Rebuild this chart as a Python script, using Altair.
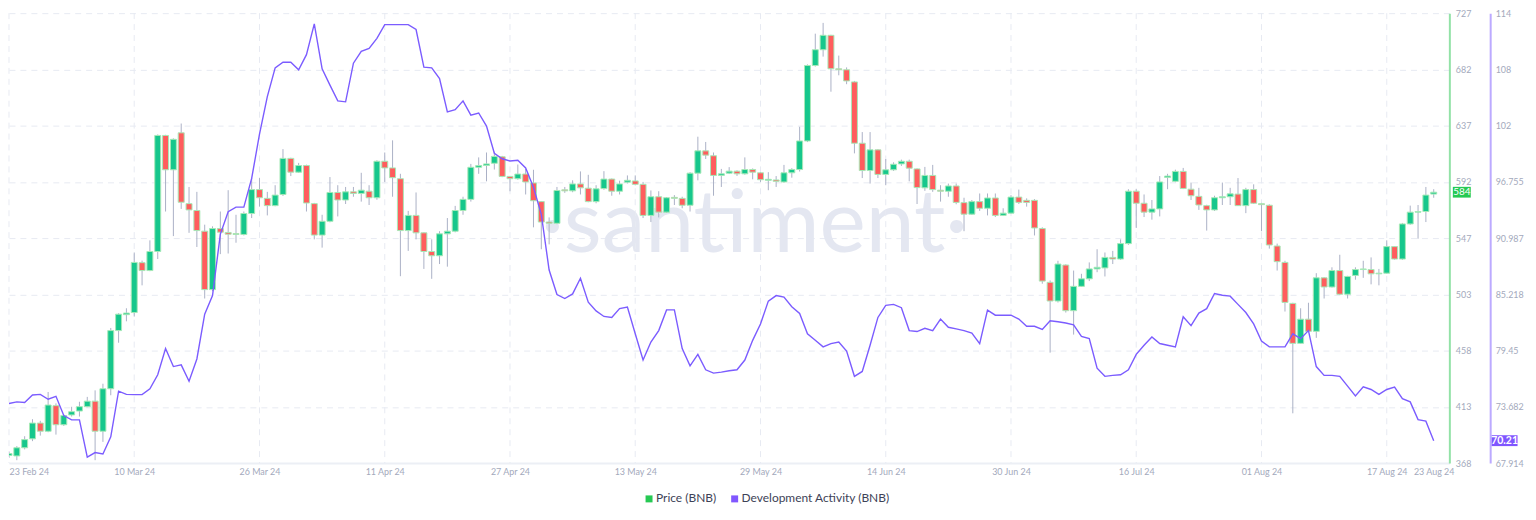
import altair as alt
import pandas as pd

# ---------------- data (daily candles, 23 Feb 2024 .. 23 Aug 2024) ----------------
dates = pd.date_range("2024-02-23", periods=183, freq="D").strftime("%Y-%m-%d").tolist()

price_open = [
    374.0,
    373.6, 380.1, 387.2, 399.8, 393.3, 413.7, 398.5, 406.3, 409.4, 412.9,
    417.3, 393.3, 427.2, 473.6, 486.3, 488.0, 527.8, 521.5, 536.7, 629.3,
    601.9, 631.4, 574.9, 569.4, 552.9, 506.3, 555.0, 551.9, 551.0, 550.3,
    567.0, 586.1, 579.1, 573.3, 582.2, 611.0, 600.0, 605.3, 574.9, 549.8,
    560.8, 583.8, 577.8, 584.3, 583.0, 584.8, 579.6, 608.7, 603.4, 594.8,
    553.4, 565.5, 551.6, 536.7, 533.3, 550.8, 552.9, 569.4, 578.3, 603.9,
    605.3, 607.1, 612.3, 596.6, 594.8, 598.5, 591.4, 576.5, 560.2, 559.2,
    585.9, 585.1, 590.6, 587.2, 576.5, 586.9, 594.5, 584.8, 592.0, 593.0,
    590.3, 565.5, 580.4, 568.1, 579.9, 579.1, 573.6, 599.2, 617.0, 613.1,
    597.4, 599.2, 600.8, 598.7, 602.1, 599.5, 593.5, 593.8, 592.2, 599.5,
    602.1, 624.9, 685.1, 697.7, 709.2, 682.5, 681.7, 672.0, 623.1, 601.3,
    617.8, 598.2, 601.9, 606.6, 608.7, 602.6, 587.5, 597.4, 585.6, 584.8,
    589.0, 575.7, 566.5, 576.5, 571.2, 579.4, 565.5, 567.3, 580.1, 577.5,
    577.5, 555.0, 512.1, 497.2, 525.9, 489.5, 508.9, 514.9, 522.8, 523.6,
    532.0, 530.7, 543.0, 584.8, 575.2, 568.1, 570.7, 595.8, 592.7, 600.6,
    586.4, 580.7, 573.3, 569.9, 579.6, 580.4, 582.5, 573.3, 586.1, 574.9,
    573.6, 541.1, 528.0, 495.3, 463.4, 482.7, 473.0, 515.7, 508.4, 521.5,
    502.6, 517.6, 522.3, 522.3, 518.9, 519.4, 540.6, 530.7, 558.7, 568.1,
    568.6, 582.5,
]
price_close = [
    375.5,
    380.1, 386.6, 399.8, 393.3, 414.2, 398.5, 405.8, 408.9, 412.9, 417.3,
    393.3, 427.2, 473.6, 486.7, 487.6, 528.0, 521.5, 536.7, 629.3, 601.9,
    626.2, 576.0, 569.9, 553.4, 506.3, 555.0, 552.1, 550.5, 550.3, 567.0,
    586.1, 579.6, 573.3, 581.7, 611.0, 600.0, 605.3, 575.4, 549.8, 560.8,
    583.8, 577.8, 584.3, 583.0, 585.6, 579.6, 608.7, 603.4, 595.6, 553.4,
    565.5, 551.6, 536.7, 533.3, 550.8, 552.9, 569.4, 578.3, 603.9, 605.3,
    606.6, 612.6, 596.6, 594.8, 598.5, 592.2, 577.2, 560.2, 559.2, 585.4,
    585.1, 590.6, 587.5, 576.5, 586.7, 594.5, 584.8, 590.6, 593.5, 590.3,
    565.5, 580.4, 568.1, 579.6, 579.1, 573.6, 599.2, 617.0, 613.6, 597.4,
    598.7, 600.8, 598.7, 602.1, 600.0, 594.0, 594.3, 592.7, 599.5, 602.1,
    624.9, 685.1, 697.7, 709.2, 682.5, 681.7, 672.8, 623.1, 601.3, 617.8,
    598.2, 601.9, 606.3, 608.7, 603.2, 587.7, 597.4, 586.1, 584.8, 589.0,
    575.9, 566.5, 576.5, 571.2, 579.4, 565.5, 567.3, 580.1, 575.9, 575.9,
    555.5, 513.1, 497.2, 526.7, 489.5, 508.9, 514.9, 522.8, 524.1, 532.0,
    530.7, 543.0, 584.8, 575.2, 568.1, 570.7, 592.2, 596.9, 600.6, 587.0,
    581.2, 573.8, 569.9, 579.6, 580.4, 582.7, 573.3, 586.1, 575.2, 574.1,
    541.9, 528.6, 496.1, 463.4, 482.7, 473.0, 515.7, 508.4, 521.5, 502.6,
    516.8, 522.3, 522.8, 518.9, 519.4, 540.6, 530.7, 558.7, 568.1, 568.6,
    581.7, 584.0,
]
price_high = [
    377.0,
    381.4, 389.3, 402.9, 401.6, 424.6, 415.5, 406.5, 412.8, 416.8, 420.7,
    425.9, 431.2, 475.7, 487.5, 491.4, 535.9, 529.4, 545.6, 630.1, 629.8,
    627.0, 638.8, 588.2, 584.3, 558.1, 556.8, 568.6, 585.6, 566.0, 568.6,
    595.3, 595.3, 584.3, 589.6, 618.4, 611.5, 607.4, 606.0, 575.5, 566.0,
    596.1, 589.6, 588.2, 588.2, 599.5, 589.6, 609.5, 615.7, 625.4, 598.7,
    569.1, 583.8, 552.0, 546.4, 552.9, 563.4, 573.1, 580.4, 606.6, 611.8,
    615.7, 616.3, 613.0, 597.0, 606.1, 602.6, 601.9, 577.0, 563.9, 588.2,
    588.2, 593.5, 600.6, 597.9, 589.6, 600.8, 595.0, 593.2, 597.4, 597.4,
    592.2, 585.4, 584.8, 580.2, 581.7, 580.4, 600.0, 628.3, 624.1, 615.7,
    602.6, 604.0, 601.5, 611.8, 603.0, 600.0, 600.0, 596.9, 605.8, 603.2,
    636.2, 686.0, 710.5, 719.1, 709.6, 693.0, 683.6, 672.8, 632.0, 632.0,
    618.3, 610.5, 607.9, 610.0, 610.0, 603.0, 604.2, 605.8, 589.6, 590.9,
    590.9, 579.6, 577.8, 583.0, 583.0, 583.0, 571.2, 581.7, 586.1, 579.1,
    578.5, 556.0, 513.6, 529.3, 526.5, 521.5, 518.9, 528.0, 538.5, 535.9,
    537.2, 546.4, 586.4, 586.4, 582.2, 577.8, 596.9, 598.7, 602.0, 603.4,
    591.7, 587.5, 574.0, 581.2, 591.7, 587.5, 595.3, 587.5, 590.3, 575.5,
    574.3, 543.0, 529.3, 495.8, 491.4, 495.8, 519.4, 516.2, 524.1, 534.1,
    517.3, 524.1, 529.3, 532.0, 522.8, 545.6, 541.0, 559.5, 573.3, 573.8,
    588.2, 586.4,
]
price_low = [
    372.0,
    370.2, 378.8, 385.4, 389.8, 392.5, 390.6, 397.5, 405.0, 405.0, 412.5,
    370.2, 384.8, 422.0, 463.9, 481.0, 484.8, 509.7, 521.0, 530.7, 568.6,
    549.0, 570.7, 551.6, 540.3, 499.2, 505.0, 534.6, 535.1, 543.7, 549.5,
    563.4, 572.5, 565.5, 572.8, 581.0, 596.9, 599.5, 568.6, 546.4, 539.8,
    560.0, 564.7, 574.6, 580.4, 576.5, 573.8, 578.0, 592.2, 580.4, 517.0,
    537.2, 546.4, 522.8, 514.9, 526.7, 524.6, 552.0, 566.0, 576.5, 598.7,
    592.7, 602.1, 596.0, 584.8, 594.0, 582.2, 556.0, 538.5, 542.4, 558.5,
    583.5, 584.0, 582.2, 576.0, 575.2, 586.0, 581.2, 582.2, 591.0, 589.5,
    563.4, 560.2, 563.9, 567.5, 573.8, 571.2, 568.6, 593.5, 610.5, 581.2,
    588.2, 598.5, 597.0, 598.0, 594.3, 592.2, 585.6, 588.2, 591.5, 595.6,
    600.5, 624.0, 684.3, 692.2, 664.2, 677.3, 670.2, 615.0, 595.3, 590.9,
    595.3, 589.6, 601.0, 605.0, 592.7, 574.6, 585.1, 584.3, 576.5, 580.4,
    574.4, 552.9, 566.0, 569.1, 565.5, 564.2, 565.0, 567.0, 574.6, 572.5,
    549.5, 511.0, 456.0, 496.0, 488.0, 470.4, 508.4, 513.1, 520.2, 516.8,
    526.7, 530.0, 542.0, 555.5, 564.2, 562.1, 564.7, 586.4, 592.0, 586.5,
    577.8, 569.9, 553.4, 569.0, 573.8, 573.8, 573.0, 567.3, 574.6, 552.9,
    539.0, 521.5, 488.8, 407.6, 463.0, 472.5, 467.8, 499.2, 507.9, 502.0,
    499.2, 514.2, 515.7, 510.5, 509.7, 519.0, 530.2, 530.0, 558.0, 546.9,
    560.2, 579.6,
]
dev_activity = [
    74.02,
    74.19, 74.12, 74.89, 74.96, 74.46, 74.76, 72.78, 72.34, 72.34, 68.52,
    68.99, 68.85, 70.60, 75.29, 74.96, 74.93, 74.93, 75.53, 76.97, 79.66,
    77.81, 77.98, 76.30, 78.59, 83.18, 85.10, 91.40, 93.69, 94.16, 94.16,
    97.11, 101.64, 105.50, 108.45, 109.02, 109.02, 108.25, 109.80, 112.95, 108.35,
    106.67, 105.06, 104.96, 108.92, 110.13, 110.43, 111.47, 112.88, 112.88, 112.88,
    112.88, 112.38, 108.52, 108.45, 107.35, 103.92, 104.16, 105.06, 103.59, 103.82,
    102.48, 99.69, 99.12, 98.89, 98.96, 98.18, 96.20, 93.42, 87.71, 85.20,
    84.79, 85.26, 86.87, 84.42, 83.52, 82.95, 82.85, 83.75, 83.92, 81.17,
    78.48, 80.33, 81.50, 83.62, 83.62, 79.66, 77.88, 79.06, 77.48, 77.14,
    77.24, 77.38, 77.48, 78.48, 80.50, 82.18, 84.52, 85.09, 84.93, 83.95,
    83.25, 81.17, 80.50, 79.83, 80.17, 80.33, 79.39, 76.81, 77.31, 80.00,
    82.85, 84.09, 84.19, 83.85, 81.50, 81.40, 81.74, 81.50, 82.68, 81.84,
    81.67, 81.50, 81.24, 80.17, 83.59, 83.08, 83.08, 83.08, 82.68, 81.94,
    81.94, 81.61, 82.51, 82.41, 82.28, 82.08, 80.90, 80.67, 77.64, 76.81,
    76.91, 76.97, 77.48, 79.06, 80.00, 80.84, 80.17, 80.00, 79.83, 82.92,
    82.01, 83.29, 83.75, 85.30, 85.13, 85.03, 84.19, 83.35, 82.18, 80.43,
    79.83, 79.83, 79.83, 81.17, 80.67, 81.50, 77.81, 76.91, 76.91, 76.81,
    75.80, 74.79, 75.73, 75.46, 74.96, 75.46, 75.70, 74.52, 74.19, 72.37,
    72.21, 70.21,
]

grid_dates = ["2024-02-23", "2024-03-10", "2024-03-26", "2024-04-11", "2024-04-27",
              "2024-05-13", "2024-05-29", "2024-06-14", "2024-06-30", "2024-07-16",
              "2024-08-01", "2024-08-17"]
tick_dates = grid_dates + ["2024-08-23"]
price_ticks = [367.9, 412.775, 457.65, 502.525, 547.4, 592.275, 637.15, 682.025, 726.9]
dev_ticks = [67.914, 73.682, 79.45, 85.218, 90.987, 96.755, 102.523, 108.29, 114.058]
series_names = ["Price (BNB)", "Development Activity (BNB)"]

n = len(dates)
assert all(len(a) == n for a in [price_open, price_close, price_high, price_low, dev_activity])

df = pd.DataFrame({"date": dates, "open": price_open, "high": price_high,
                   "low": price_low, "close": price_close, "dev": dev_activity})

# ---------------- styling ----------------
W, H = 1447, 452
FONT = "Lato"
LABEL_GREY = "#a3a9bc"
UP = "#16c78c"
DOWN = "#ff5d5d"
BORDER = "#a6e9b6"
WICK = "#aab0c6"
LINE = "#7b5cff"
PRICE_GREEN = "#26c953"
GRID = "#e7eaf2"


def ms(s):
    return int(pd.Timestamp(s, tz="UTC").value // 10**6)


x_scale = alt.Scale(type="utc", domain=[ms("2024-02-23"), ms("2024-08-25")], nice=False, padding=0)
x_axis = alt.Axis(
    values=[ms(d) for d in tick_dates],
    labelExpr="utcFormat(datum.value, '%d %b %y')",
    grid=False, ticks=False, domainColor="#eceff5", domainWidth=2,
    labelColor=LABEL_GREY, labelFont=FONT, labelFontSize=9, labelPadding=4,
    labelFlush=True, labelOverlap=False, title=None,
)
x_enc = alt.X("date:T", scale=x_scale, axis=x_axis)

price_scale = alt.Scale(domain=[367.9, 726.9], zero=False, nice=False)
price_axis = alt.Axis(
    orient="right", values=price_ticks, labelExpr="format(datum.value, '.0f')",
    grid=True, gridColor=GRID, gridDash=[6, 5], gridWidth=1,
    ticks=False, domainColor="#93e2a7", domainWidth=2,
    labelColor=LABEL_GREY, labelFont=FONT, labelFontSize=9, labelPadding=6, title=None,
)
dev_scale = alt.Scale(domain=[67.914, 114.058], zero=False, nice=False)
dev_axis = alt.Axis(
    orient="right", offset=41, values=dev_ticks,
    labelExpr="datum.value >= 100 ? format(floor(datum.value), 'd') : format(datum.value, '.5~r')",
    grid=False, ticks=False, domainColor="#bcaaff", domainWidth=2,
    labelColor=LABEL_GREY, labelFont=FONT, labelFontSize=9, labelPadding=5, title=None,
)

one = alt.Data(values=[{}])

watermark = alt.Chart(one).mark_text(
    text="·santiment·", font=FONT, fontSize=88, fontWeight="normal",
    color="#e4e7f1", align="center", baseline="alphabetic",
).encode(x=alt.value(749), y=alt.value(240))

vgrid = alt.Chart(pd.DataFrame({"date": grid_dates})).mark_rule(
    color=GRID, strokeDash=[6, 5], strokeWidth=1
).encode(x=x_enc)

base = alt.Chart(df)
wicks = base.mark_rule(color=WICK, strokeWidth=1, clip=True).encode(
    x=x_enc,
    y=alt.Y("low:Q", scale=price_scale, axis=price_axis),
    y2="high:Q",
)
bodies = base.mark_bar(width=6, stroke=BORDER, strokeWidth=1, clip=True).encode(
    x=x_enc,
    y=alt.Y("open:Q", scale=price_scale, axis=price_axis),
    y2="close:Q",
    color=alt.condition("datum.close >= datum.open", alt.value(UP), alt.value(DOWN)),
)
price_badge_df = pd.DataFrame({"v": [price_close[-1]]})
price_badge_box = alt.Chart(price_badge_df).mark_point(
    shape="M-1,-0.6H1V0.6H-1Z", size=324, filled=True, opacity=1, color=PRICE_GREEN,
).encode(x=alt.value(W + 12.5), y=alt.Y("v:Q", scale=price_scale, axis=price_axis))
price_badge_txt = alt.Chart(price_badge_df).mark_text(
    font=FONT, fontSize=10, color="white", align="center", baseline="middle",
).encode(x=alt.value(W + 12.5), y=alt.Y("v:Q", scale=price_scale, axis=price_axis),
         text=alt.Text("v:Q", format=".0f"))
price_layer = alt.layer(wicks, bodies, price_badge_box, price_badge_txt)

dev_line = base.mark_line(color=LINE, strokeWidth=1.4, clip=True).encode(
    x=x_enc, y=alt.Y("dev:Q", scale=dev_scale, axis=dev_axis)
)
dev_badge_df = pd.DataFrame({"v": [dev_activity[-1]]})
dev_badge_box = alt.Chart(dev_badge_df).mark_point(
    shape="M-1,-0.42H1V0.42H-1Z", size=676, filled=True, opacity=1, color="#7f56ff",
).encode(x=alt.value(W + 55.5), y=alt.Y("v:Q", scale=dev_scale, axis=dev_axis))
dev_badge_txt = alt.Chart(dev_badge_df).mark_text(
    font=FONT, fontSize=10.5, fontWeight="bold", color="white", align="center", baseline="middle",
).encode(x=alt.value(W + 55.5), y=alt.Y("v:Q", scale=dev_scale, axis=dev_axis),
         text=alt.Text("v:Q", format=".2f"))
dev_layer = alt.layer(dev_line, dev_badge_box, dev_badge_txt)

# legend (manual)
leg_y = 488
leg_sq1 = alt.Chart(one).mark_point(shape="square", size=49, filled=True, opacity=1,
                                    color=PRICE_GREEN).encode(x=alt.value(643), y=alt.value(leg_y))
leg_t1 = alt.Chart(one).mark_text(text=series_names[0], font=FONT, fontSize=12, color="#3d4256",
                                  align="left", baseline="middle").encode(x=alt.value(650), y=alt.value(leg_y - 1))
leg_sq2 = alt.Chart(one).mark_point(shape="square", size=49, filled=True, opacity=1,
                                    color="#8157ff").encode(x=alt.value(729), y=alt.value(leg_y))
leg_t2 = alt.Chart(one).mark_text(text=series_names[1], font=FONT, fontSize=12, color="#3d4256",
                                  align="left", baseline="middle").encode(x=alt.value(736), y=alt.value(leg_y - 1))

chart = alt.layer(
    watermark, vgrid, price_layer, dev_layer, leg_sq1, leg_t1, leg_sq2, leg_t2
).resolve_scale(y="independent").properties(
    width=W, height=H, padding={"left": 0, "top": 0, "right": 4, "bottom": 4}
).configure_view(stroke=None)

chart.save("out.html", embed_options={"renderer": "svg", "actions": False})
